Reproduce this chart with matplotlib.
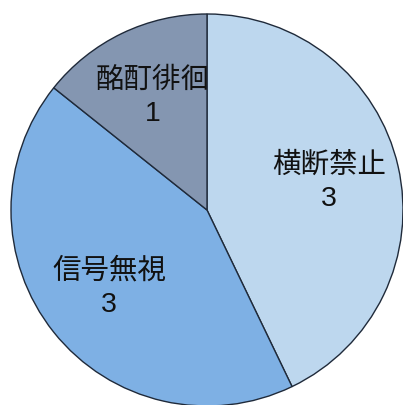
import matplotlib

matplotlib.use("Agg")

import matplotlib.pyplot as plt

categories = ["横断禁止", "信号無視", "酩酊徘徊"]
counts = [3, 3, 1]
colors = ["#BDD7EE", "#7EB0E4", "#8496B1"]

fig = plt.figure(figsize=(4.03, 4.05), dpi=100)
ax = fig.add_axes([0, 0, 1, 1])

center = (207, 195)
radius = 196
wedges, texts = ax.pie(
    counts,
    labels=[f"{c}\n{n}" for c, n in zip(categories, counts)],
    colors=colors,
    startangle=90,
    counterclock=False,
    center=center,
    radius=radius,
    labeldistance=0.64,
    wedgeprops={"edgecolor": "#1F2A3A", "linewidth": 1.0},
    textprops={"fontsize": 20.5, "family": ["Liberation Sans", "Noto Sans CJK JP"], "color": "#111111"},
    frame=True,
)
for t in texts:
    t.set_ha("center")
    t.set_va("center")
    t.set_multialignment("center")
    t.set_linespacing(1.35)
ax.set_xlim(0, 403)
ax.set_ylim(0, 405)
ax.set_aspect("equal")
ax.axis("off")

fig.savefig("out.png", dpi=100)
